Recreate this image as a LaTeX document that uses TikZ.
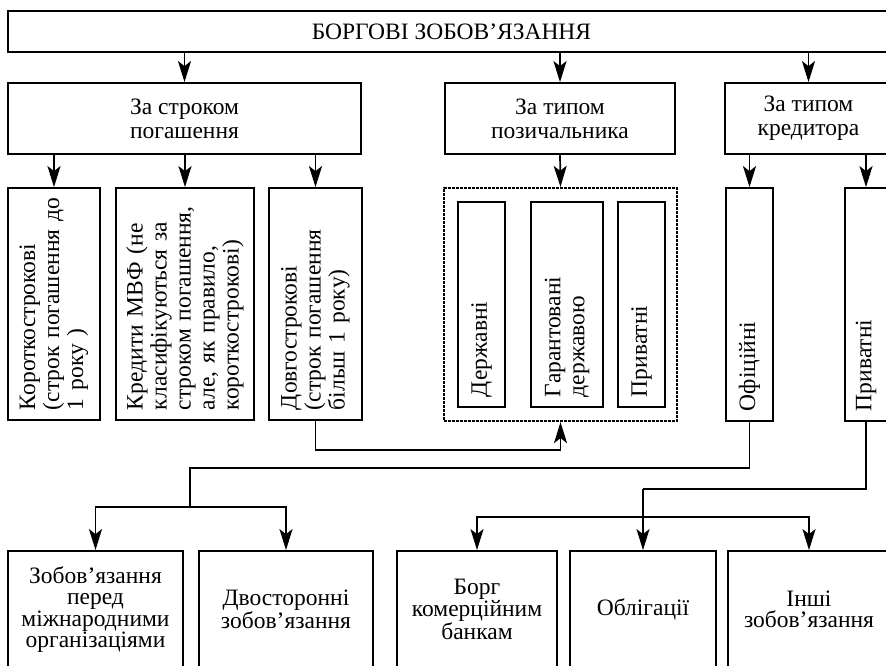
\documentclass[tikz,border=0pt]{standalone}
\usepackage{fontspec}
\setmainfont{Liberation Serif}
\usetikzlibrary{arrows.meta}
\newcommand{\boxfont}{\fontsize{23.5}{24}\selectfont}
\newcommand{\leafont}{\fontsize{23.5}{21.5}\selectfont}
\newcommand{\rotfont}{\fontsize{23.5}{24}\selectfont}
\begin{document}
\begin{tikzpicture}[x=1pt,y=-1pt,
  box/.style={draw, line width=1.8pt, inner sep=0pt, align=center, font=\boxfont},
  leaf/.style={box, font=\leafont},
  vlabel/.style={rotate=90, inner sep=0pt, align=left, font=\rotfont},
  grp/.style={draw, line width=2.3pt, dash pattern=on 3pt off 1pt, inner sep=0pt},
  ln/.style={line width=1.7pt},
  arr/.style={line width=1.7pt, -{Stealth[length=21pt,width=13pt,inset=5pt]}}]
\useasboundingbox (0,0) rectangle (886,665);
\clip (0,0) rectangle (886,665);

% top level
\node[box, minimum width=887pt, minimum height=41pt] (top) at (451.5,31.5) {БОРГОВІ ЗОБОВ’ЯЗАННЯ};

% classification criteria
\node[box, minimum width=353pt, minimum height=71pt] (r2a) at (184.5,118.5) {За строком\\погашення};
\node[box, minimum width=230pt, minimum height=71pt] (r2b) at (560,118.5) {За типом\\позичальника};
\node[box, minimum width=167pt, minimum height=71pt] (r2c) at (808.5,118.5) {За типом\\кредитора};

% by maturity
\node[box, minimum width=92pt, minimum height=232pt] (k1) at (54,304) {};
\node[box, minimum width=138pt, minimum height=232pt] (k2) at (185,304) {};
\node[box, minimum width=93pt, minimum height=232pt] (k3) at (315.5,304) {};
\node[vlabel, text width=212pt] (k1t) at (k1.center) {Короткострокові\\(строк погашення до\\1 року )};
\node[vlabel, text width=212pt] (k2t) at (k2.center) {Кредити МВФ (не\\класифікуються за\\строком погашення,\\але, як правило,\\короткострокові)};
\node[vlabel, text width=212pt] (k3t) at (k3.center) {Довгострокові\\(строк погашення\\більш 1 року)};

% by borrower
\node[grp, minimum width=233pt, minimum height=233pt] (dot) at (560.5,304.5) {};
\node[box, minimum width=47pt, minimum height=205pt] (d1) at (481.5,304.5) {};
\node[box, minimum width=72pt, minimum height=205pt] (d2) at (567,304.5) {};
\node[box, minimum width=47pt, minimum height=205pt] (d3) at (641.5,304.5) {};
\node[vlabel, text width=185pt] (d1t) at (d1.center) {Державні};
\node[vlabel, text width=185pt] (d2t) at (d2.center) {Гарантовані\\державою};
\node[vlabel, text width=185pt] (d3t) at (d3.center) {Приватні};

% by creditor
\node[box, minimum width=47pt, minimum height=233pt] (o1) at (749.5,304.5) {};
\node[box, minimum width=42pt, minimum height=233pt] (p1) at (866,304.5) {};
\node[vlabel, text width=213pt] (o1t) at (o1.center) {Офіційні};
\node[vlabel, text width=213pt] (p1t) at (p1.center) {Приватні};

% creditor breakdown
\node[leaf, minimum width=175pt, minimum height=117pt] (b1) at (95.5,609.5) {Зобов’язання\\перед\\міжнародними\\організаціями};
\node[leaf, minimum width=174pt, minimum height=117pt] (b2) at (286,609.5) {Двосторонні\\зобов’язання};
\node[leaf, minimum width=160pt, minimum height=117pt] (b3) at (477,609.5) {Борг\\комерційним\\банкам};
\node[leaf, minimum width=146pt, minimum height=117pt] (b4) at (643,609.5) {Облігації};
\node[leaf, minimum width=162pt, minimum height=117pt] (b5) at (809,609.5) {Інші\\зобов’язання};

% arrows from the top box
\draw[arr] (top.south -| r2a.north) -- (r2a.north);
\draw[arr] (top.south -| r2b.north) -- (r2b.north);
\draw[arr] (top.south -| r2c.north) -- (r2c.north);

% arrows to the third row
\draw[arr] (r2a.south -| k1.north) -- (k1.north);
\draw[arr] (r2a.south -| k2.north) -- (k2.north);
\draw[arr] (r2a.south -| k3.north) -- (k3.north);
\draw[arr] (r2b.south) -- (dot.north);
\draw[arr] (r2c.south -| o1.north) -- (o1.north);
\draw[arr] (r2c.south -| p1.north) -- (p1.north);

% long-term debt back to the borrower group
\coordinate (j1) at (0,450);
\draw[arr] (k3.south) |- (j1 -| dot.south) -- (dot.south);

% official creditors
\coordinate (s1) at (190,468);
\coordinate (s2) at (190,507);
\draw[ln] (o1.south) |- (s1) -- (s2);
\draw[arr] (s2) -| (b1.north);
\draw[arr] (s2) -| (b2.north);

% private creditors
\coordinate (t1) at (643,489);
\coordinate (t2) at (643,517);
\draw[ln] (p1.south) |- (t1);
\draw[arr] (t1) -- (b4.north);
\draw[arr] (t2) -| (b3.north);
\draw[arr] (t2) -| (b5.north);
\end{tikzpicture}
\end{document}
